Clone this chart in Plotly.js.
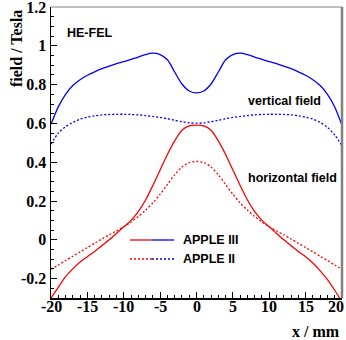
<!DOCTYPE html>
<html>
<head>
<meta charset="utf-8">
<script src="https://cdn.plot.ly/plotly-3.0.1.min.js"></script>
<style>html,body{margin:0;padding:0;background:#fff;}#chart{width:346px;height:340px;}</style>
</head>
<body>
<div id="chart"></div>
<script>
const xPos = [-20,-19,-18,-17,-16,-15,-14,-13,-12,-11,-10,-9,-8,-7,-6,-5,-4,-3,-2,-1,0,1,2,3,4,5,6,7,8,9,10,11,12,13,14,15,16,17,18,19,20];
const vertApple3 = [0.595,0.685,0.75,0.795,0.825,0.848,0.866,0.882,0.895,0.908,0.918,0.93,0.942,0.955,0.962,0.955,0.928,0.865,0.803,0.767,0.757,0.767,0.803,0.865,0.928,0.955,0.962,0.955,0.942,0.93,0.918,0.908,0.895,0.882,0.866,0.848,0.825,0.795,0.75,0.685,0.59];
const vertApple2 = [0.493,0.55,0.583,0.605,0.622,0.632,0.639,0.644,0.646,0.647,0.647,0.646,0.644,0.64,0.636,0.631,0.624,0.616,0.609,0.603,0.601,0.603,0.609,0.616,0.624,0.631,0.636,0.64,0.644,0.646,0.647,0.647,0.646,0.644,0.639,0.632,0.622,0.605,0.58,0.54,0.485];
const horApple3 = [-0.30,-0.245,-0.19,-0.15,-0.115,-0.087,-0.06,-0.03,0.0,0.033,0.067,0.1,0.145,0.205,0.28,0.36,0.44,0.51,0.565,0.587,0.591,0.587,0.565,0.51,0.44,0.36,0.28,0.205,0.145,0.1,0.067,0.033,0.0,-0.03,-0.06,-0.087,-0.12,-0.16,-0.205,-0.26,-0.32];
const horApple2 = [-0.152,-0.13,-0.107,-0.085,-0.062,-0.04,-0.018,0.004,0.026,0.046,0.067,0.092,0.12,0.153,0.19,0.235,0.285,0.335,0.375,0.398,0.404,0.398,0.375,0.335,0.285,0.235,0.19,0.153,0.12,0.092,0.067,0.046,0.026,0.004,-0.018,-0.04,-0.062,-0.085,-0.107,-0.13,-0.152];
const seriesNames = ['APPLE III','APPLE II'];
const labels = ['HE-FEL','vertical field','horizontal field'];
const xTicks = [-20,-15,-10,-5,0,5,10,15,20];
const yTicks = [-0.2,0,0.2,0.4,0.6,0.8,1,1.2];
const xTitle = 'x / mm';
const yTitle = 'field / Tesla';

const RED = '#ff0000', BLUE = '#0000ff';
const DOT = '2px,2px';
function tr(y, color, dash) {
  return {x: xPos, y: y, mode: 'lines', type: 'scatter', showlegend: false,
    hoverinfo: 'skip', line: {color: color, width: 1.3, dash: dash, shape: 'spline', smoothing: 0.8}};
}
const data = [
  tr(vertApple3, BLUE, 'solid'),
  tr(vertApple2, BLUE, DOT),
  tr(horApple3, RED, 'solid'),
  tr(horApple2, RED, DOT)
];
const W = 291, L = 51, T = 7, B = 298;
const px = p => (p - L) / W;
const py = p => (B - p) / W;
const tickFont = {family: 'Liberation Serif', size: 16, color: '#000'};
const txtFont = {family: 'Liberation Sans', size: 12.5, color: '#000'};
const ann = [
  {text: '<b>' + labels[0] + '</b>', xref: 'paper', yref: 'paper', x: px(65), y: py(33), xanchor: 'left', yanchor: 'middle', showarrow: false, font: txtFont},
  {text: '<b>' + labels[1] + '</b>', xref: 'paper', yref: 'paper', x: px(246), y: py(101), xanchor: 'left', yanchor: 'middle', showarrow: false, font: txtFont},
  {text: '<b>' + labels[2] + '</b>', xref: 'paper', yref: 'paper', x: px(246), y: py(178), xanchor: 'left', yanchor: 'middle', showarrow: false, font: txtFont},
  {text: '<b>' + seriesNames[0] + '</b>', xref: 'paper', yref: 'paper', x: px(181), y: py(240), xanchor: 'left', yanchor: 'middle', showarrow: false, font: txtFont},
  {text: '<b>' + seriesNames[1] + '</b>', xref: 'paper', yref: 'paper', x: px(181), y: py(259), xanchor: 'left', yanchor: 'middle', showarrow: false, font: txtFont},
  {text: '<b>' + xTitle + '</b>', xref: 'paper', yref: 'paper', x: 1, y: py(331), xanchor: 'right', yanchor: 'middle', showarrow: false, font: {family: 'Liberation Serif', size: 16, color: '#000'}},
  {text: '<b>' + yTitle + '</b>', xref: 'paper', yref: 'paper', x: px(16), y: py(49), xanchor: 'center', yanchor: 'middle', textangle: -90, showarrow: false, font: {family: 'Liberation Serif', size: 16, color: '#000'}}
];
xTicks.forEach((v, i) => {
  const last = i === xTicks.length - 1;
  ann.push(last
    ? {text: '<b>' + v + '</b>', xref: 'paper', yref: 'paper', x: px(346), y: py(306), xanchor: 'right', yanchor: 'middle', showarrow: false, font: tickFont}
    : {text: '<b>' + v + '</b>', xref: 'x', yref: 'paper', x: v, y: py(306), xanchor: 'center', yanchor: 'middle', showarrow: false, font: tickFont});
});
const layout = {
  width: 346, height: 340,
  margin: {l: 51, r: 4, t: 7, b: 42},
  paper_bgcolor: '#fff', plot_bgcolor: '#fff',
  font: {family: 'Liberation Serif'},
  xaxis: {range: [-20, 20], tickvals: xTicks, showticklabels: false,
    ticks: 'inside', ticklen: 6, tickwidth: 1, tickcolor: '#000',
    minor: {dtick: 1, ticks: 'inside', ticklen: 3, tickcolor: '#000', showgrid: false},
    showgrid: false, zeroline: false, showline: true, linecolor: '#000', linewidth: 1.5, fixedrange: true},
  yaxis: {range: [-0.30001, 1.20001], tickvals: yTicks, ticktext: yTicks.map(v => '<b>' + v + '</b>'),
    ticks: 'inside', ticklen: 6, tickwidth: 1, tickcolor: '#000', ticklabeloverflow: 'allow',
    minor: {dtick: 0.05, tick0: 0, ticks: 'inside', ticklen: 3, tickcolor: '#000', showgrid: false},
    showgrid: false, zeroline: false, showline: true, linecolor: '#000', linewidth: 1.5,
    tickfont: tickFont, fixedrange: true},
  shapes: [
    {type: 'line', xref: 'paper', yref: 'paper', x0: 0, x1: 1, y0: 1, y1: 1, line: {color: '#808080', width: 1}},
    {type: 'line', xref: 'paper', yref: 'paper', x0: 1, x1: 1, y0: 0, y1: 1, line: {color: '#808080', width: 2.5}},
    {type: 'line', xref: 'paper', yref: 'paper', x0: px(130), x1: px(152), y0: py(240), y1: py(240), line: {color: RED, width: 1.3}},
    {type: 'line', xref: 'paper', yref: 'paper', x0: px(152), x1: px(174), y0: py(240), y1: py(240), line: {color: BLUE, width: 1.3}},
    {type: 'line', xref: 'paper', yref: 'paper', x0: px(130), x1: px(152), y0: py(259), y1: py(259), line: {color: RED, width: 1.3, dash: DOT}},
    {type: 'line', xref: 'paper', yref: 'paper', x0: px(152), x1: px(174), y0: py(259), y1: py(259), line: {color: BLUE, width: 1.3, dash: DOT}}
  ],
  annotations: ann
};
Plotly.newPlot('chart', data, layout, {displayModeBar: false, staticPlot: true});
</script>
</body>
</html>
